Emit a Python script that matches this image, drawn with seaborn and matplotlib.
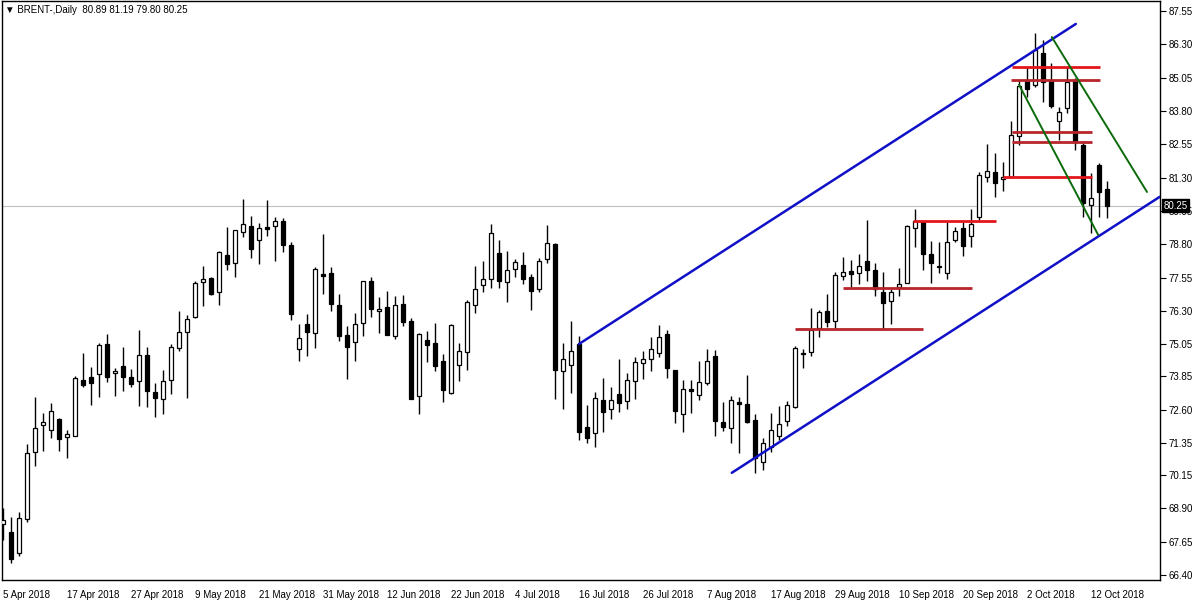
import numpy as np
import pandas as pd
import seaborn as sns
import matplotlib.pyplot as plt

# BRENT daily candles, 5 Apr 2018 .. 16 Oct 2018 (one per business day)
start_date = "2018-04-05"

opens = [68.31, 68.01, 67.22, 68.50, 71.01, 72.02, 71.83, 72.25, 71.57, 71.61,
         73.71, 73.82, 73.93, 75.06, 73.97, 74.23, 73.82, 73.67, 74.65, 73.26,
         73.00, 73.71, 74.91, 75.51, 76.07, 77.38, 77.53, 77.01, 78.40, 78.10,
         79.26, 79.48, 78.96, 79.45, 79.48, 79.67, 78.77, 74.87, 75.81, 75.47,
         77.68, 77.72, 76.52, 75.40, 75.13, 75.85, 77.42, 76.30, 76.45, 75.36,
         76.56, 75.92, 73.11, 75.21, 75.10, 74.42, 73.22, 74.27, 74.76, 76.52,
         77.27, 77.50, 78.47, 77.38, 77.87, 78.02, 77.57, 77.12, 78.25, 78.81,
         74.05, 74.27, 75.06, 71.95, 71.72, 72.96, 72.62, 73.18, 72.92, 73.67,
         74.35, 74.50, 74.72, 75.43, 74.08, 72.43, 73.37, 73.15, 73.60, 74.61,
         72.13, 71.91, 72.88, 72.81, 72.21, 70.63, 71.20, 71.61, 72.17, 72.70,
         74.74, 74.76, 75.66, 76.30, 75.92, 77.61, 77.80, 77.72, 78.17, 77.83,
         77.01, 76.67, 77.20, 77.35, 79.41, 79.63, 78.43, 78.00, 77.72, 78.96,
         79.41, 79.11, 79.82, 81.32, 81.51, 81.25, 81.32, 82.86, 84.96, 84.77,
         85.97, 84.96, 83.42, 83.91, 84.96, 82.52, 80.27, 81.77, 80.89]

highs = [68.91, 68.57, 68.76, 71.31, 73.07, 72.47, 72.85, 72.27, 71.83, 73.86,
         74.72, 74.20, 75.10, 75.43, 74.16, 74.95, 74.12, 75.58, 74.95, 73.60,
         74.08, 75.06, 76.30, 76.15, 77.42, 77.98, 77.57, 78.53, 79.45, 79.35,
         80.50, 79.86, 79.60, 80.46, 79.82, 79.78, 78.88, 75.81, 76.18, 77.95,
         79.18, 77.95, 76.93, 75.73, 76.22, 77.44, 77.57, 76.82, 77.05, 76.86,
         76.90, 76.03, 75.47, 75.55, 75.85, 74.68, 75.80, 75.10, 76.71, 77.98,
         78.17, 79.56, 78.96, 78.55, 78.25, 78.51, 77.68, 78.28, 79.52, 78.83,
         75.10, 75.92, 75.36, 72.77, 73.26, 73.78, 73.45, 74.50, 73.97, 74.57,
         74.80, 75.32, 75.77, 75.58, 74.10, 73.71, 73.71, 74.42, 74.87, 74.83,
         72.88, 73.11, 73.07, 73.90, 72.43, 71.53, 72.47, 72.73, 72.92, 74.99,
         74.87, 76.41, 76.33, 76.93, 77.76, 78.32, 78.21, 78.43, 79.71, 78.10,
         77.76, 77.12, 77.91, 79.52, 80.12, 79.65, 78.92, 78.88, 79.63, 79.45,
         79.63, 80.12, 81.51, 82.56, 82.22, 81.88, 83.42, 84.96, 85.45, 86.72,
         86.46, 85.60, 83.95, 85.45, 85.04, 82.60, 81.47, 81.85, 81.19]

lows = [67.71, 66.85, 67.11, 68.38, 70.48, 71.05, 71.53, 71.05, 70.78, 71.60,
        73.45, 72.77, 73.07, 73.63, 73.11, 73.30, 73.45, 72.73, 72.70, 72.32,
        72.43, 73.18, 74.80, 73.03, 76.03, 76.48, 76.90, 76.52, 77.83, 77.57,
        79.07, 78.28, 78.06, 79.11, 78.17, 78.51, 75.96, 74.42, 74.61, 74.91,
        76.93, 76.30, 75.17, 73.75, 74.42, 75.36, 76.07, 75.47, 75.38, 75.25,
        75.73, 72.98, 72.43, 74.38, 74.05, 72.88, 73.20, 73.67, 74.08, 76.22,
        77.01, 77.16, 77.16, 76.63, 77.57, 77.31, 76.33, 77.01, 78.10, 73.00,
        72.62, 73.22, 71.46, 71.35, 71.20, 71.76, 72.25, 72.51, 72.62, 73.00,
        73.75, 74.05, 74.57, 73.78, 72.10, 71.76, 72.47, 72.96, 73.52, 71.61,
        71.80, 71.35, 70.97, 72.10, 70.22, 70.33, 71.01, 71.46, 71.99, 72.66,
        74.16, 74.61, 75.32, 75.70, 75.62, 77.46, 77.20, 77.31, 77.42, 76.86,
        75.62, 75.81, 76.86, 77.33, 78.70, 77.83, 77.35, 77.72, 77.50, 78.88,
        78.36, 78.70, 79.71, 81.13, 80.57, 80.80, 81.29, 82.52, 84.32, 84.70,
        84.13, 83.91, 82.71, 83.72, 82.33, 79.82, 79.22, 79.82, 79.80]

closes = [68.46, 67.00, 68.53, 70.97, 71.91, 72.13, 72.55, 71.50, 71.68, 73.78,
          73.52, 73.60, 75.02, 73.82, 74.05, 73.82, 73.56, 74.65, 73.30, 73.03,
          73.67, 74.95, 75.51, 76.00, 77.35, 77.50, 76.93, 78.51, 78.06, 79.33,
          79.56, 78.62, 79.41, 79.37, 79.67, 78.77, 76.18, 75.28, 75.51, 77.87,
          77.61, 76.56, 75.36, 74.95, 75.81, 77.42, 76.37, 76.37, 75.40, 76.52,
          75.88, 73.00, 75.43, 75.02, 74.23, 73.33, 75.77, 74.80, 76.63, 77.12,
          77.50, 79.22, 77.42, 77.83, 78.13, 77.50, 77.05, 78.17, 78.85, 74.08,
          74.50, 74.80, 71.76, 71.53, 73.03, 72.51, 72.96, 72.85, 73.71, 74.38,
          74.50, 74.87, 75.32, 74.16, 72.55, 73.37, 73.30, 73.63, 74.42, 72.17,
          71.95, 72.96, 72.81, 72.13, 70.78, 71.35, 71.83, 72.06, 72.77, 74.91,
          74.70, 75.58, 76.26, 75.88, 77.65, 77.76, 77.68, 77.98, 77.83, 77.12,
          76.60, 77.01, 77.31, 79.48, 79.67, 78.43, 78.10, 77.95, 78.88, 79.30,
          78.73, 79.56, 81.40, 81.55, 81.10, 81.32, 82.90, 84.73, 84.62, 86.08,
          84.88, 83.98, 83.76, 84.88, 82.63, 80.35, 80.54, 80.76, 80.25]

price_ticks = [87.55, 86.30, 85.05, 83.80, 82.55, 81.30, 80.05, 78.80, 77.55,
               76.30, 75.05, 73.85, 72.60, 71.35, 70.15, 68.90, 67.65, 66.40]

# drawn objects: (bar index, price) end points
channel_upper = ([72.0, 134.1], [75.06, 87.06])
channel_lower = ([91.1, 144.6], [70.23, 80.58])
green_upper = ([131.1, 143.0], [86.57, 80.76])
green_lower = ([127.0, 136.9], [84.78, 79.15])

# horizontal levels: start bar, end bar, price, colour
levels = [
    (99.0, 115.0, 75.63, "#b8262a"),
    (105.0, 121.1, 77.16, "#b8262a"),
    (113.8, 124.1, 79.68, "#e3161b"),
    (125.0, 136.1, 81.33, "#e3161b"),
    (126.1, 136.1, 82.64, "#b8262a"),
    (126.1, 136.1, 83.01, "#b8262a"),
    (126.0, 137.1, 84.96, "#b8262a"),
    (126.1, 137.1, 85.45, "#e3161b"),
]

sns.set_theme(style="white")
plt.rcParams['font.family'] = ['Liberation Sans', 'DejaVu Sans']

df = pd.DataFrame({
    "date": pd.bdate_range(start_date, periods=len(opens)),
    "open": opens, "high": highs, "low": lows, "close": closes,
})
df["bar"] = np.arange(len(df))
up = df["close"] >= df["open"]

fig = plt.figure(figsize=(12, 6), dpi=100)
ax = fig.add_axes([0.0015, 0.0333, 0.965, 0.965])

ax.axhline(closes[-1], color="#c0c0c0", lw=0.8, zorder=1)

ax.vlines(df["bar"], df["low"], df["high"], color="black", lw=1.0, zorder=2)
body = (df["close"] - df["open"]).abs().clip(lower=0.03)
ax.bar(df["bar"], body, bottom=df[["open", "close"]].min(axis=1), width=0.55,
       color=np.where(up, "white", "black"), edgecolor="black", linewidth=0.9, zorder=3)

for xs, ys in [channel_upper, channel_lower]:
    sns.lineplot(x=xs, y=ys, ax=ax, color="#1010c8", lw=1.8, zorder=5)
for xs, ys in [green_upper, green_lower]:
    sns.lineplot(x=xs, y=ys, ax=ax, color="#0b6b0b", lw=1.4, zorder=5)
for x0, x1, p, c in levels:
    ax.hlines(p, x0, x1, color=c, lw=2.0, zorder=4)

ax.set_xlim(-0.15, 144.6)
ax.set_ylim(66.21, 87.92)

ax.yaxis.tick_right()
ax.set_yticks(price_ticks)
ax.set_yticklabels([f"{t:.2f}" for t in price_ticks])
tick_bars = df["bar"][::8]
ax.set_xticks(tick_bars)
ax.set_xticklabels([f"{d.day} {d:%b %Y}" for d in df["date"][::8]])
for lab in ax.get_xticklabels():
    lab.set_horizontalalignment("left")
ax.tick_params(axis="both", direction="out", length=4, width=0.8, color="black",
               labelsize=7, labelcolor="black", pad=2)
ax.tick_params(axis="x", pad=3)
ax.tick_params(axis="y", right=True, left=False)
for s in ax.spines.values():
    s.set_color("black")
    s.set_linewidth(1.0)
ax.set_xlabel("")
ax.set_ylabel("")

ax.annotate(f"{closes[-1]:.2f}", xy=(1.0, closes[-1]), xycoords=("axes fraction", "data"),
            xytext=(2.5, 0), textcoords="offset points", va="center", ha="left",
            color="white", fontsize=7,
            bbox=dict(boxstyle="square,pad=0.18", fc="black", ec="black"),
            annotation_clip=False, zorder=10)

header = f"\u25bc BRENT-,Daily  {opens[-1]:.2f} {highs[-1]:.2f} {lows[-1]:.2f} {closes[-1]:.2f}"
fig.text(0.004, 0.983, header, fontsize=7, va="center", ha="left", color="black")

fig.savefig("out.png", dpi=100)
